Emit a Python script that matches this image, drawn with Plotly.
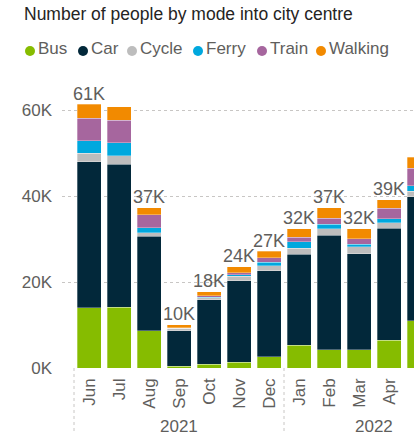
import plotly.graph_objects as go

# ---- data ----
months = ["Jun", "Jul", "Aug", "Sep", "Oct", "Nov", "Dec", "Jan", "Feb", "Mar", "Apr", "May"]
years = ["2021", "2021", "2021", "2021", "2021", "2021", "2021", "2022", "2022", "2022", "2022", "2022"]
bus =     [14000, 14100, 8700,  400,  900, 1300, 2600, 5300, 4300, 4200, 6500, 11000]
car =     [34000, 33300, 21900, 8300, 15000, 19000, 20000, 21200, 26600, 22400, 26000, 28800]
cycle =   [2000,  2000,  800,   500,  400, 1000, 1200, 1400, 1500, 1600, 1300, 1300]
ferry =   [2800,  3000,  1200,  50,   200,  400,  800, 1500, 1000, 600,  900,  1300]
train =   [5300,  5200,  3000,  100,  300,  400, 1000, 1000, 1400, 1300, 2500, 4000]
walking = [3200,  3100,  1700,  750,  900, 1400, 1600, 2000, 2500, 2300, 1900, 2600]
total_labels_shown = ["Jun", "Aug", "Sep", "Oct", "Nov", "Dec", "Jan", "Feb", "Mar", "Apr", "May"]
y_ticks = [0, 20000, 40000, 60000]
y_tick_labels = ["0K", "20K", "40K", "60K"]

series = [
    ("Bus", bus, "#86BC00"),
    ("Car", car, "#02283A"),
    ("Cycle", cycle, "#BDBDBD"),
    ("Ferry", ferry, "#00A8DE"),
    ("Train", train, "#A6669E"),
    ("Walking", walking, "#F28A00"),
]

FONT = "Liberation Sans, Arial, sans-serif"
GREY = "#605E5C"
W, H = 414, 436
ML, MR, MT, MB = 62, 0, 100, 68
PH = H - MT - MB
PW = W - ML - MR

x = list(range(len(months)))
fig = go.Figure()
for name, vals, col in series:
    fig.add_trace(go.Bar(
        x=x, y=vals, name=name, marker=dict(color=col, line=dict(color="rgba(255,255,255,0.5)", width=0.6)),
        width=0.8, showlegend=False, hoverinfo="skip"))

totals = [sum(v) for v in zip(bus, car, cycle, ferry, train, walking)]
texts = [f"{round(t / 1000)}K" if m in total_labels_shown else "" for t, m in zip(totals, months)]
fig.add_trace(go.Scatter(
    x=x, y=totals, mode="text", text=texts, textposition="top center",
    textfont=dict(family=FONT, size=18, color=GREY), cliponaxis=False,
    showlegend=False, hoverinfo="skip"))

def py(pix):
    return (H - MB - pix) / PH

def px(pix):
    return (pix - ML) / PW

# x range: 30 px per category, first category centre at x=89 px
span = PW / 30.0
x0 = -(89 - ML) / 30.0
fig.update_xaxes(
    range=[x0, x0 + span], tickmode="array", tickvals=x, ticktext=months,
    tickangle=-90, tickfont=dict(family=FONT, size=17, color=GREY),
    showgrid=False, zeroline=False, showline=False, ticks="", ticklabelstandoff=6)
ymax = (H - MB - MT) / ((H - MB - 110) / 60000.0)
fig.update_yaxes(
    range=[0, ymax], tickmode="array", tickvals=y_ticks, ticktext=y_tick_labels,
    tickfont=dict(family=FONT, size=17, color=GREY),
    showgrid=True, gridcolor="#C8C6C4", griddash="dot", gridwidth=1,
    zeroline=False, showline=False, ticks="", ticklabelstandoff=9)

annotations = [
    dict(text="Number of people by mode into city centre", xref="paper", yref="paper",
         x=px(22), y=py(14), xanchor="left", yanchor="middle",
         showarrow=False, font=dict(family=FONT, size=17.5, color="#252423")),
]
# year group labels
year_names = []
for yv in years:
    if yv not in year_names:
        year_names.append(yv)
for yv in year_names:
    idx = [i for i, v in enumerate(years) if v == yv]
    first, last = idx[0], idx[-1]
    if yv == "2022":
        last = first + 5  # group continues to Jun beyond visible area
    annotations.append(dict(text=yv, xref="x", yref="paper", x=(first + last) / 2, y=py(426),
                            xanchor="center", yanchor="middle", showarrow=False,
                            font=dict(family=FONT, size=17, color=GREY)))

shapes = []
# year separators
for b in [-0.5, 6.5]:
    shapes.append(dict(type="line", xref="x", yref="paper", x0=b, x1=b, y0=0, y1=py(434),
                       line=dict(color="#C8C6C4", width=1, dash="dot")))

# custom legend
legend_cx = [30, 83, 132, 198, 262, 321]
for (name, vals, col), cx in zip(series, legend_cx):
    r = 5 / PW
    ry = 5 / PH
    yc = py(51)
    shapes.append(dict(type="circle", xref="paper", yref="paper", x0=px(cx) - r, x1=px(cx) + r,
                       y0=yc - ry, y1=yc + ry, fillcolor=col, line=dict(width=0)))
    annotations.append(dict(text=name, xref="paper", yref="paper", x=px(cx + 6),
                            y=py(49), xanchor="left", yanchor="middle", showarrow=False,
                            font=dict(family=FONT, size=17, color=GREY)))

fig.update_layout(
    width=W, height=H, margin=dict(l=ML, r=MR, t=MT, b=MB),
    barmode="stack", bargap=0.2, plot_bgcolor="white", paper_bgcolor="white",
    annotations=annotations, shapes=shapes)

fig.write_html("out.html", config={"displayModeBar": False},
               post_script="document.body.style.margin='0';document.body.style.overflow='hidden';")
